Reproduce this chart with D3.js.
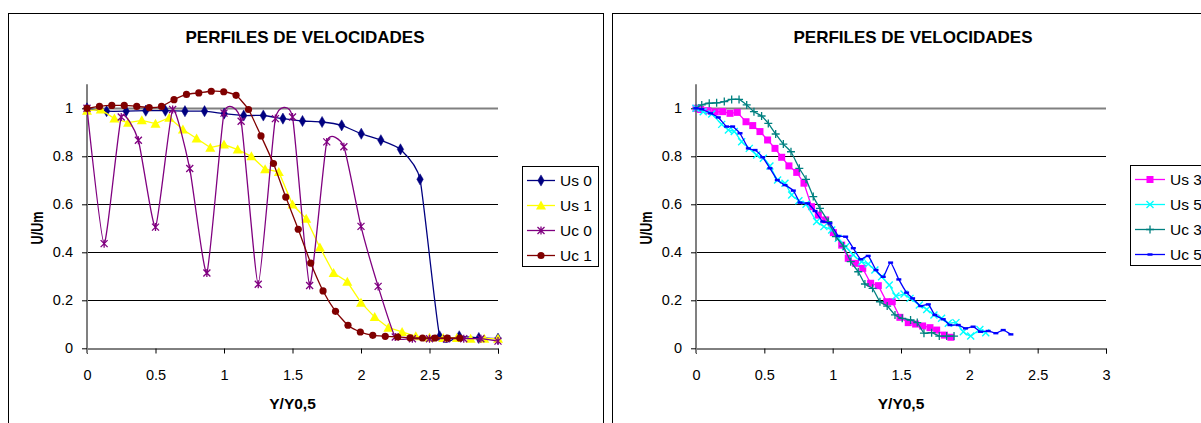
<!DOCTYPE html>
<html>
<head>
<meta charset="utf-8">
<script src="https://cdn.jsdelivr.net/npm/d3@7"></script>
<style>
  body { margin: 0; background: #fff; }
  svg { display: block; font-family: "Liberation Sans", Arial, sans-serif; }
</style>
</head>
<body>
<div id="chart"></div>
<script>
// axis ticks, shared by both panels
var xTicks = [0, 0.5, 1, 1.5, 2, 2.5, 3];
var yTicks = [0, 0.2, 0.4, 0.6, 0.8, 1];

// ---- left panel series
var us0X = [0,0.143,0.286,0.429,0.572,0.715,0.858,1.001,1.144,1.287,1.43,1.573,1.716,1.859,2.002,2.145,2.288,2.431,2.574,2.717,2.86,3.0];
var us0Y = [1,0.988,0.988,0.99,0.99,0.988,0.988,0.978,0.97,0.97,0.957,0.947,0.943,0.929,0.894,0.867,0.829,0.704,0.05,0.05,0.043,0.04];

var us1X = [0,0.1,0.2,0.3,0.4,0.5,0.6,0.7,0.8,0.9,1.0,1.1,1.2,1.3,1.4,1.5,1.6,1.7,1.8,1.9,2.0,2.1,2.2,2.3,2.4,2.5,2.6,2.7,2.8,2.9,3.0];
var us1Y = [0.99,0.995,0.957,0.94,0.95,0.936,0.961,0.912,0.874,0.836,0.849,0.828,0.8,0.746,0.735,0.599,0.54,0.42,0.314,0.277,0.19,0.13,0.086,0.068,0.05,0.044,0.043,0.043,0.04,0.04,0.04];

var uc0X = [0,0.125,0.25,0.375,0.5,0.625,0.75,0.875,1.0,1.125,1.25,1.375,1.5,1.625,1.75,1.875,2.0,2.125,2.25,2.375,2.5,2.625,2.75,2.875,3.0];
var uc0Y = [1.0,0.436,0.964,0.867,0.505,0.995,0.749,0.314,0.98,0.946,0.267,0.957,0.964,0.262,0.86,0.84,0.508,0.258,0.047,0.04,0.04,0.04,0.04,0.04,0.03];

var uc1X = [0,0.091,0.181,0.272,0.363,0.454,0.544,0.635,0.726,0.816,0.907,0.998,1.088,1.179,1.27,1.361,1.451,1.542,1.633,1.723,1.814,1.905,1.995,2.086,2.177,2.268,2.358,2.449,2.54,2.63,2.721];
var uc1Y = [1.0,1.008,1.012,1.012,1.008,1.003,1.008,1.036,1.058,1.064,1.071,1.069,1.054,0.995,0.885,0.77,0.63,0.496,0.355,0.239,0.154,0.096,0.068,0.054,0.05,0.047,0.044,0.043,0.043,0.043,0.043];

// ---- right panel series
var us3X = [0,0.034,0.088,0.141,0.195,0.249,0.302,0.366,0.415,0.468,0.524,0.578,0.627,0.68,0.737,0.79,0.846,0.895,0.949,1.005,1.066,1.114,1.168,1.22,1.278,1.334,1.395,1.436,1.492,1.553,1.607,1.658,1.712,1.761,1.817,1.865];
var us3Y = [1.0,0.995,0.99,0.985,0.986,0.979,0.983,0.944,0.928,0.903,0.868,0.833,0.796,0.76,0.733,0.688,0.59,0.555,0.535,0.482,0.43,0.375,0.354,0.333,0.271,0.261,0.194,0.194,0.129,0.107,0.101,0.093,0.086,0.076,0.055,0.046];

var us5X = [0,0.053,0.115,0.188,0.237,0.28,0.334,0.39,0.444,0.493,0.541,0.597,0.651,0.7,0.753,0.805,0.883,0.936,0.993,1.041,1.095,1.151,1.212,1.26,1.309,1.358,1.414,1.463,1.522,1.566,1.634,1.688,1.741,1.797,1.846,1.902,1.956,2.01,2.077,2.12];
var us5Y = [1.0,0.986,0.976,0.933,0.91,0.903,0.861,0.833,0.805,0.792,0.76,0.701,0.688,0.639,0.615,0.6,0.528,0.507,0.493,0.458,0.423,0.389,0.361,0.351,0.326,0.298,0.264,0.218,0.226,0.208,0.18,0.162,0.139,0.125,0.104,0.107,0.069,0.051,0.078,0.065];

var uc3X = [0,0.042,0.097,0.151,0.207,0.261,0.315,0.371,0.424,0.48,0.529,0.583,0.639,0.695,0.756,0.805,0.858,0.907,0.968,1.024,1.078,1.132,1.187,1.236,1.292,1.346,1.399,1.456,1.509,1.57,1.619,1.668,1.724,1.78,1.834,1.888];
var uc3Y = [1.0,1.014,1.021,1.023,1.028,1.037,1.037,1.014,0.986,0.968,0.937,0.893,0.851,0.819,0.75,0.704,0.632,0.583,0.528,0.465,0.426,0.361,0.319,0.268,0.25,0.194,0.176,0.139,0.125,0.118,0.107,0.063,0.065,0.051,0.051,0.051];

var uc5X = [0,0.042,0.107,0.163,0.224,0.268,0.322,0.383,0.432,0.488,0.541,0.595,0.651,0.712,0.761,0.817,0.871,0.927,0.98,1.041,1.095,1.151,1.205,1.26,1.317,1.37,1.424,1.484,1.541,1.585,1.644,1.7,1.748,1.809,1.858,1.919,1.972,2.028,2.082,2.138,2.194,2.248,2.304];
var uc5Y = [1.0,0.996,0.979,0.962,0.924,0.924,0.896,0.833,0.826,0.796,0.75,0.701,0.68,0.657,0.607,0.604,0.572,0.528,0.521,0.468,0.465,0.417,0.371,0.385,0.326,0.298,0.357,0.287,0.232,0.208,0.176,0.183,0.139,0.121,0.097,0.097,0.083,0.09,0.069,0.072,0.063,0.076,0.058];

var W = 1201, H = 423;
var svg = d3.select("#chart").append("svg")
    .attr("width", W)
    .attr("height", H);

// marker painters
function drawMarker(g, type, color) {
  if (type == "diamond") {
    g.append("path").attr("d", d3.symbol(d3.symbolDiamond, 36)())
      .attr("fill", color).attr("stroke", color).attr("stroke-width", 0.5);
  } else if (type == "triangle") {
    g.append("path").attr("d", "M0,-5L5,4L-5,4Z").attr("fill", color);
  } else if (type == "circle") {
    g.append("circle").attr("r", 3.6).attr("fill", color);
  } else if (type == "square") {
    g.append("rect").attr("x", -3.5).attr("y", -3.5).attr("width", 7).attr("height", 7).attr("fill", color);
  } else if (type == "star") {
    g.append("path").attr("d", "M-3.5,-3.5L3.5,3.5M-3.5,3.5L3.5,-3.5M0,-4L0,4")
      .attr("stroke", color).attr("stroke-width", 1.3).attr("fill", "none");
  } else if (type == "cross") {
    g.append("path").attr("d", "M-3.5,-3.5L3.5,3.5M-3.5,3.5L3.5,-3.5")
      .attr("stroke", color).attr("stroke-width", 1.4).attr("fill", "none");
  } else if (type == "plus") {
    g.append("path").attr("d", "M-4,0L4,0M0,-4L0,4")
      .attr("stroke", color).attr("stroke-width", 1.3).attr("fill", "none");
  } else if (type == "dash") {
    g.append("rect").attr("x", -2.5).attr("y", -1.2).attr("width", 5).attr("height", 2.4).attr("fill", color);
  }
}

function drawPanel(p) {
  var frame = svg.append("g");
  frame.append("rect")
    .attr("x", p.frameX + 0.5).attr("y", 13.5)
    .attr("width", p.frameW).attr("height", 430)
    .attr("fill", "#fff").attr("stroke", "#000").attr("stroke-width", 1);

  frame.append("text")
    .attr("x", p.titleX).attr("y", 43)
    .attr("text-anchor", "middle")
    .attr("font-size", "17px").attr("font-weight", 700)
    .text("PERFILES DE VELOCIDADES");

  var x = d3.scaleLinear().domain([0, 3]).range([p.left, p.right]);
  var y = d3.scaleLinear().domain([0, 1.1]).range([348.3, 84.3]);

  // gridlines
  frame.append("g").selectAll("line")
    .data(yTicks.filter(function(d) { return d > 0; }))
    .enter().append("line")
      .attr("x1", p.left).attr("x2", p.right)
      .attr("y1", function(d) { return Math.round(y(d)) + 0.5; })
      .attr("y2", function(d) { return Math.round(y(d)) + 0.5; })
      .attr("stroke", function(d) { return d == 1 ? "#808080" : "#000"; })
      .attr("stroke-width", function(d) { return d == 1 ? 2 : 1; });

  // x axis
  var xAxis = frame.append("g")
      .attr("transform", "translate(0," + (Math.round(y(0)) + 0.5) + ")")
      .call(d3.axisBottom(x).tickValues(xTicks).tickSize(5).tickFormat(d3.format("")));
  xAxis.select(".domain").attr("stroke", "#000");
  xAxis.selectAll(".tick line").attr("stroke", "#000");
  xAxis.selectAll("text").attr("font-size", "14.5px").attr("fill", "#000")
      .attr("font-family", "Liberation Sans, Arial, sans-serif").attr("dy", "1.65em");

  // y axis
  var yAxis = frame.append("g")
      .attr("transform", "translate(" + p.left + ",0)")
      .call(d3.axisLeft(y).tickValues(yTicks).tickSize(5).tickFormat(d3.format("")));
  yAxis.select(".domain").attr("stroke", "#808080").attr("stroke-width", 2)
      .attr("d", "M0," + y(1.1) + "V" + (y(0) + 5));
  yAxis.selectAll(".tick line").attr("stroke", "#000");
  yAxis.selectAll("text").attr("font-size", "14.5px").attr("fill", "#000")
      .attr("font-family", "Liberation Sans, Arial, sans-serif").attr("x", -14);

  // axis titles
  frame.append("text")
    .attr("x", (p.left + p.right) / 2).attr("y", 409)
    .attr("text-anchor", "middle")
    .attr("font-size", "15.5px").attr("font-weight", 700)
    .text("Y/Y0,5");
  frame.append("text")
    .attr("transform", "translate(" + p.yTitleX + ",228) rotate(-90)")
    .attr("text-anchor", "middle")
    .attr("font-size", "16px").attr("font-weight", 700)
    .attr("textLength", 33).attr("lengthAdjust", "spacingAndGlyphs")
    .text("U/Um");

  // series
  p.series.forEach(function(s) {
    var pts = s.xs.map(function(v, i) { return [v, s.ys[i]]; });
    var line = d3.line()
        .x(function(d) { return x(d[0]); })
        .y(function(d) { return y(d[1]); })
        .curve(s.smooth ? d3.curveCardinal.tension(0.5) : d3.curveLinear);
    frame.append("path")
      .datum(pts)
      .attr("d", line)
      .attr("fill", "none")
      .attr("stroke", s.color)
      .attr("stroke-width", s.width || 1.3);
    pts.forEach(function(d) {
      var m = frame.append("g").attr("transform", "translate(" + x(d[0]) + "," + y(d[1]) + ")");
      drawMarker(m, s.marker, s.color);
    });
  });

  // legend
  var lg = frame.append("g");
  lg.append("rect")
    .attr("x", p.legX + 0.5).attr("y", p.legY + 0.5)
    .attr("width", p.legW).attr("height", 100)
    .attr("fill", "#fff").attr("stroke", "#000").attr("stroke-width", 1);
  p.series.forEach(function(s, i) {
    var cy = p.legY + 14.5 + i * 25;
    lg.append("line")
      .attr("x1", p.legX + 5).attr("x2", p.legX + 5 + p.legLine)
      .attr("y1", cy).attr("y2", cy)
      .attr("stroke", s.color).attr("stroke-width", 1.3);
    var m = lg.append("g").attr("transform", "translate(" + (p.legX + 5 + p.legLine / 2) + "," + cy + ")");
    drawMarker(m, s.marker, s.color);
    lg.append("text")
      .attr("x", p.legX + 10 + p.legLine).attr("y", cy + 5.5)
      .attr("font-size", "15.5px")
      .text(s.name);
  });
}

drawPanel({
  frameX: 8, frameW: 595, titleX: 305,
  left: 87, right: 498, yTitleX: 43,
  legX: 522, legY: 166, legW: 76, legLine: 28,
  series: [
    {name: "Us 0", xs: us0X, ys: us0Y, color: "#000080", marker: "diamond", smooth: true},
    {name: "Us 1", xs: us1X, ys: us1Y, color: "#FFFF00", marker: "triangle", smooth: false},
    {name: "Uc 0", xs: uc0X, ys: uc0Y, color: "#800080", marker: "star", smooth: true},
    {name: "Uc 1", xs: uc1X, ys: uc1Y, color: "#800000", marker: "circle", smooth: true}
  ]
});

drawPanel({
  frameX: 612, frameW: 600, titleX: 913,
  left: 696, right: 1106, yTitleX: 652,
  legX: 1130, legY: 165, legW: 90, legLine: 30,
  series: [
    {name: "Us 3", xs: us3X, ys: us3Y, color: "#FF00FF", marker: "square", smooth: false},
    {name: "Us 5", xs: us5X, ys: us5Y, color: "#00FFFF", marker: "cross", smooth: true},
    {name: "Uc 3", xs: uc3X, ys: uc3Y, color: "#008080", marker: "plus", smooth: true},
    {name: "Uc 5", xs: uc5X, ys: uc5Y, color: "#0000FF", marker: "dash", smooth: true}
  ]
});
</script>
</body>
</html>
